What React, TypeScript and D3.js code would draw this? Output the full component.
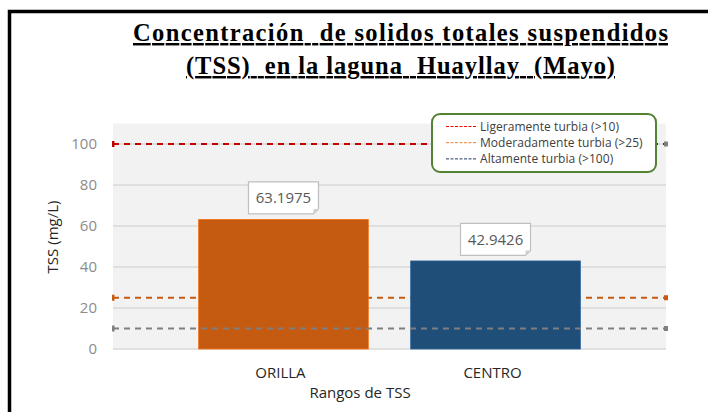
import * as d3 from "d3";

const categories = ["ORILLA", "CENTRO"];
const values = [63.1975, 42.9426];
const yTicks = [0, 20, 40, 60, 80, 100];
const thresholdValues = [100, 25, 10];
const legendLabels = ["Ligeramente turbia (>10)", "Moderadamente turbia (>25)", "Altamente turbia (>100)"];
const titleLines = ["Concentración  de solidos totales suspendidos", "(TSS)  en la laguna  Huayllay  (Mayo)"];

const W = 708;
const H = 412;
const PLOT = { left: 113, right: 666, top: 123.5, bottom: 349 };
const BAR_COLORS = ["#c55a11", "#1f4e79"];
const LINE_COLORS = ["#c00000", "#c55a11", "#7f7f7f"];
const LEGEND_COLORS = ["#ff0000", "#ed7d31", "#203864"];
const TITLE_WIDTHS = [535, 429];
const FONT = "'Open Sans', 'Liberation Sans', sans-serif";

export default function App() {
  const x = d3.scaleBand<string>().domain(categories).range([PLOT.left, PLOT.right]).paddingInner(0.2).paddingOuter(0.404);
  const y = d3.scaleLinear().domain([0, 110]).range([PLOT.bottom, PLOT.top]);

  const threshold = (i: number) => (
    <g key={"th" + i}>
      <line
        x1={PLOT.left}
        x2={PLOT.right}
        y1={y(thresholdValues[i])}
        y2={y(thresholdValues[i])}
        stroke={LINE_COLORS[i]}
        strokeWidth={2}
        strokeDasharray="6 5"
      />
      <rect x={PLOT.left - 1} y={y(thresholdValues[i]) - 3} width={2.5} height={6} fill={LINE_COLORS[i]} />
      <rect x={PLOT.right - 2} y={y(thresholdValues[i]) - 2.5} width={4} height={5} fill={i === 0 ? "#7f7f7f" : LINE_COLORS[i]} />
    </g>
  );

  return (
    <svg width={W} height={H} style={{ position: "fixed", left: 0, top: 0, background: "#fff" }}>
      <rect x={0} y={0} width={W} height={H} fill="#fff" />
      {/* outer frame */}
      <path d={`M9.5,${H + 5} V11.5 H${W + 5}`} fill="none" stroke="#000" strokeWidth={3.5} />

      {titleLines.map((t, i) => (
        <text
          key={t}
          x={400.5}
          y={41 + i * 33}
          textAnchor="middle"
          fontFamily="'Liberation Serif', 'Times New Roman', serif"
          fontWeight="bold"
          fontSize={24.5}
          textDecoration="underline"
          textLength={TITLE_WIDTHS[i]}
          lengthAdjust="spacing"
          style={{ whiteSpace: "pre" }}
          fill="#000"
        >
          {t}
        </text>
      ))}

      {/* plot area */}
      <rect x={PLOT.left} y={PLOT.top} width={PLOT.right - PLOT.left} height={PLOT.bottom - PLOT.top} fill="#f2f2f2" />
      {yTicks.map((t) => (
        <g key={t}>
          <line x1={PLOT.left} x2={PLOT.right} y1={y(t)} y2={y(t)} stroke="#d9d9d9" strokeWidth={1.3} />
          <text x={97} y={y(t)} dy="0.36em" textAnchor="end" fontFamily={FONT} fontSize={15} fill="#8c8c8c">
            {t}
          </text>
        </g>
      ))}

      {threshold(1)}

      {categories.map((c, i) => (
        <rect
          key={c}
          x={x(c)}
          y={y(values[i])}
          width={x.bandwidth()}
          height={y(0) - y(values[i])}
          fill={BAR_COLORS[i]}
          stroke={d3.color(BAR_COLORS[i])!.brighter(0.6).formatHex()}
          strokeWidth={0.8}
        />
      ))}

      {threshold(0)}
      {threshold(2)}

      {/* data labels */}
      {categories.map((c, i) => {
        const cx = x(c)! + x.bandwidth() / 2;
        const by = y(values[i]) - 5.5;
        const w = 70;
        const h = 32;
        const lx = cx - w / 2;
        const ty = by - h;
        return (
          <g key={"lbl" + c}>
            <path
              d={`M${lx},${ty} H${lx + w} V${by - 5} L${lx + w - 5},${by} H${lx} Z`}
              fill="#fff"
              stroke="#bfbfbf"
              strokeWidth={1.2}
            />
            <path d={`M${lx + w},${by - 5} L${lx + w - 5},${by - 5} L${lx + w - 5},${by}`} fill="#d0d0d0" />
            <text x={cx} y={ty + h / 2} dy="0.36em" textAnchor="middle" fontFamily={FONT} fontSize={15} fill="#595959">
              {values[i]}
            </text>
          </g>
        );
      })}

      {/* category labels */}
      {categories.map((c) => (
        <text key={"cat" + c} x={x(c)! + x.bandwidth() / 2 - 3} y={378} textAnchor="middle" fontFamily={FONT} fontSize={15} fill="#262626">
          {c}
        </text>
      ))}
      <text x={360} y={398} textAnchor="middle" fontFamily={FONT} fontSize={15} fill="#262626">
        Rangos de TSS
      </text>
      <text
        transform={`translate(58, 237) rotate(-90)`}
        textAnchor="middle"
        fontFamily={FONT}
        fontSize={15}
        fill="#262626"
      >
        TSS (mg/L)
      </text>

      {/* legend */}
      <rect x={432} y={114} width={224} height={58} rx={8} fill="#fff" stroke="#548235" strokeWidth={2} />
      {legendLabels.map((l, i) => (
        <g key={l} transform={`translate(0, ${126.5 + i * 16.2})`}>
          <line x1={446} x2={477} y1={0} y2={0} stroke={LEGEND_COLORS[i]} strokeWidth={1} strokeDasharray="3 1.5" />
          <text x={480} y={0} dy="0.35em" fontFamily={FONT} fontSize={12} letterSpacing={0.05} fill="#404040">
            {l}
          </text>
        </g>
      ))}
    </svg>
  );
}
